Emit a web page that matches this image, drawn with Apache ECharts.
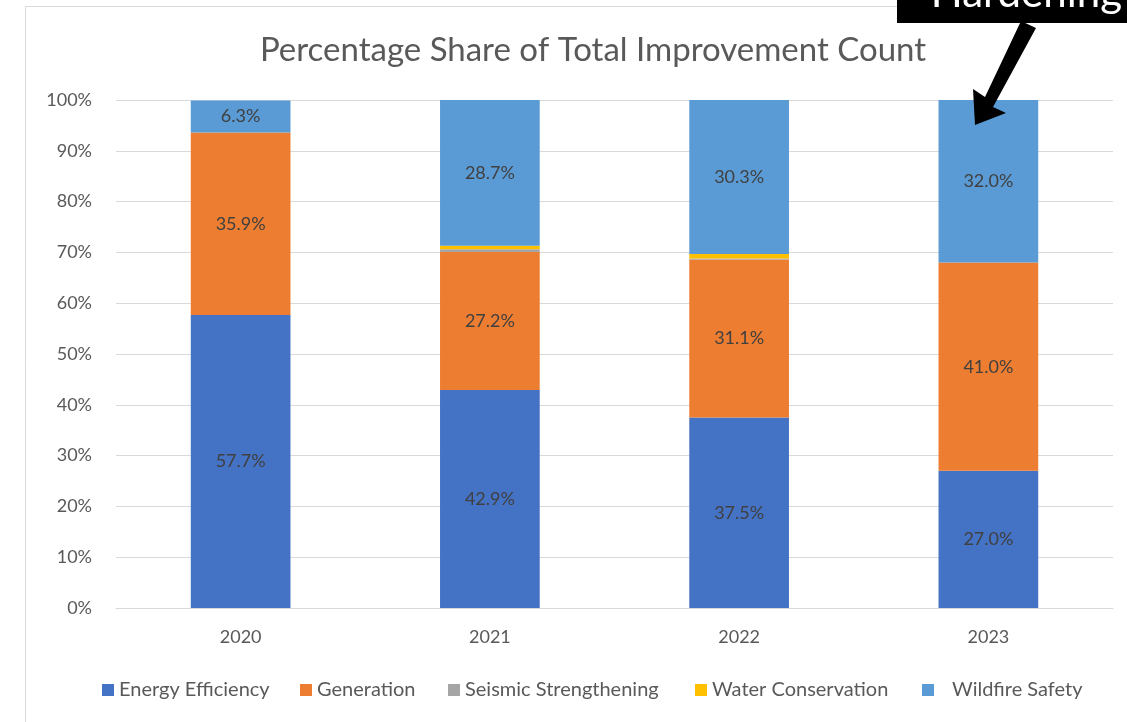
<!DOCTYPE html>
<html>
<head>
<meta charset="utf-8">
<script src="https://cdn.jsdelivr.net/npm/echarts@6/dist/echarts.min.js"></script>
<style>
  html, body { margin: 0; padding: 0; background: #fff; }
  #main { width: 1127px; height: 722px; }
</style>
</head>
<body>
<div id="main"></div>
<script>
// chart data (percent of total improvement count)
var years = ["2020", "2021", "2022", "2023"];
var energyEfficiency = [57.7, 42.9, 37.5, 27.0];
var generation = [35.9, 27.2, 31.1, 41.0];
var seismic = [0, 0.5, 0.2, 0];
var water = [0, 0.7, 0.9, 0];
var wildfire = [6.3, 28.7, 30.3, 32.0];
var yTicks = ["0%", "10%", "20%", "30%", "40%", "50%", "60%", "70%", "80%", "90%", "100%"];
var seriesNames = ["Energy Efficiency", "Generation", "Seismic Strengthening", "Water Conservation", "Wildfire Safety"];

var myChart = echarts.init(document.getElementById("main"));
var font = "Lato, 'Open Sans', sans-serif";

function makeSeries(name, data, color, showLabel) {
  return {
    name: name,
    type: "bar",
    stack: "total",
    barWidth: "40%",
    data: data,
    itemStyle: { color: color },
    label: {
      show: showLabel,
      position: "inside",
      color: "#404040",
      fontFamily: font,
      fontSize: 18,
      formatter: function (p) { return p.value > 0 ? p.value.toFixed(1) + "%" : ""; }
    }
  };
}

// one legend per item so the spacing of the original can be kept
var legendLeft = [102, 300, 448, 695, 922];
var legends = seriesNames.map(function (name, i) {
  return {
    left: legendLeft[i],
    bottom: 22,
    padding: 0,
    itemWidth: 12,
    itemHeight: 12,
    icon: "rect",
    textStyle: {
      fontFamily: font,
      fontSize: 20,
      color: "#595959",
      padding: [0, 0, 0, i === 4 ? 13 : 0]
    },
    data: [name]
  };
});

var option = {
  animation: false,
  textStyle: { fontFamily: font },
  title: {
    text: "Percentage Share of Total Improvement Count",
    left: 588,
    textAlign: "center",
    top: 29,
    textStyle: { fontFamily: font, fontSize: 33, fontWeight: "normal", color: "#595959" }
  },
  grid: { left: 116, right: 14, top: 100, bottom: 114 },
  legend: legends,
  xAxis: {
    type: "category",
    data: years,
    axisLine: { lineStyle: { color: "#d9d9d9", width: 1 } },
    axisTick: { show: false },
    axisLabel: { color: "#595959", fontSize: 18, margin: 20 }
  },
  yAxis: {
    type: "value",
    min: 0,
    max: 100,
    interval: 10,
    axisLine: { show: false },
    axisTick: { show: false },
    splitLine: { lineStyle: { color: "#d9d9d9" } },
    axisLabel: {
      color: "#595959",
      fontSize: 18,
      margin: 24,
      formatter: function (v) { return yTicks[Math.round(v / 10)]; }
    }
  },
  series: [
    makeSeries(seriesNames[0], energyEfficiency, "#4472C4", true),
    makeSeries(seriesNames[1], generation, "#ED7D31", true),
    makeSeries(seriesNames[2], seismic, "#A5A5A5", false),
    makeSeries(seriesNames[3], water, "#FFC000", false),
    makeSeries(seriesNames[4], wildfire, "#5B9BD5", true)
  ],
  graphic: [
    {
      type: "rect",
      shape: { x: 25.5, y: 6.5, width: 1140, height: 760 },
      style: { fill: "none", stroke: "#d9d9d9", lineWidth: 1 },
      silent: true,
      z: -1
    },
    {
      type: "rect",
      shape: { x: 897, y: 0, width: 240, height: 23 },
      style: { fill: "#000" },
      z: 100
    },
    {
      type: "text",
      x: 1122,
      y: 14,
      style: {
        text: "Hardening",
        fill: "#fff",
        font: "42px " + font,
        textAlign: "right",
        textVerticalAlign: "bottom"
      },
      z: 101
    },
    {
      type: "polygon",
      shape: { points: [[1021, 21], [1036, 28], [993, 107], [1006, 113], [975, 125], [973, 89], [985, 97]] },
      style: { fill: "#000" },
      z: 100
    }
  ]
};

myChart.setOption(option);
</script>
</body>
</html>
